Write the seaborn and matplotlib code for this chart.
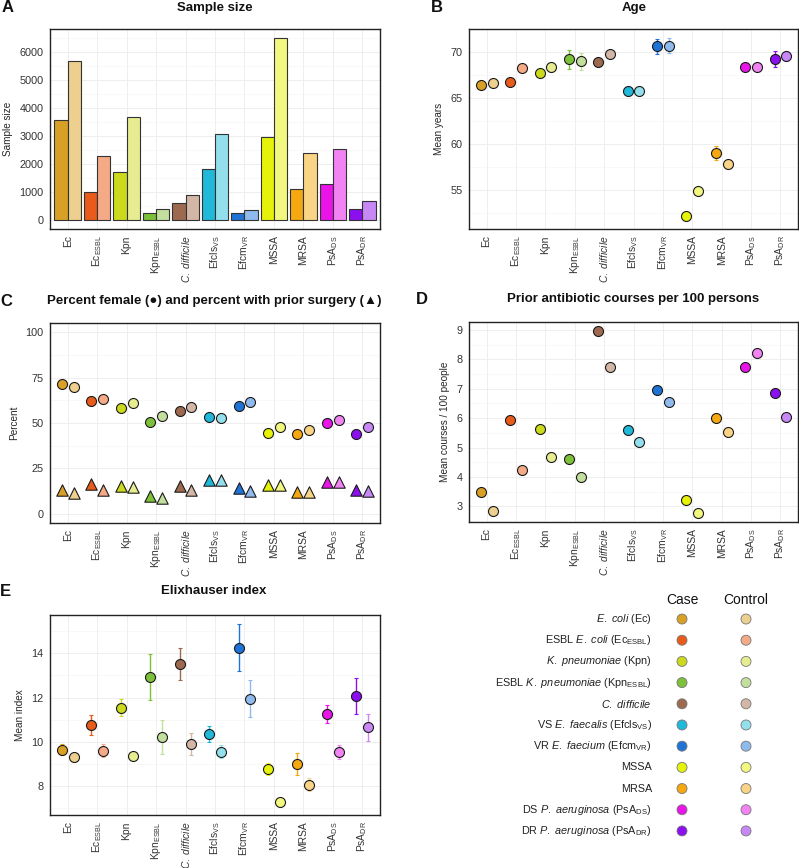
import matplotlib
matplotlib.use("Agg")
import matplotlib.pyplot as plt
from matplotlib.ticker import AutoMinorLocator, MultipleLocator
import seaborn as sns
import pandas as pd

# ---- data ----
orgs = ["Ec", "EcESBL", "Kpn", "KpnESBL", "Cdiff", "EfclsVS", "EfcmVR",
        "MSSA", "MRSA", "PsADS", "PsADR"]
tick_labels = ["Ec", r"Ec$_{\mathrm{ESBL}}$", "Kpn", r"Kpn$_{\mathrm{ESBL}}$",
               r"$\mathit{C.\ difficile}$", r"Efcls$_{\mathrm{VS}}$", r"Efcm$_{\mathrm{VR}}$",
               "MSSA", "MRSA", r"PsA$_{\mathrm{DS}}$", r"PsA$_{\mathrm{DR}}$"]
legend_labels = [r"$\mathit{E.\ coli}$ (Ec)",
                 r"ESBL $\mathit{E.\ coli}$ (Ec$_{\mathrm{ESBL}}$)",
                 r"$\mathit{K.\ pneumoniae}$ (Kpn)",
                 r"ESBL $\mathit{K.\ pneumoniae}$ (Kpn$_{\mathrm{ESBL}}$)",
                 r"$\mathit{C.\ difficile}$",
                 r"VS $\mathit{E.\ faecalis}$ (Efcls$_{\mathrm{VS}}$)",
                 r"VR $\mathit{E.\ faecium}$ (Efcm$_{\mathrm{VR}}$)",
                 "MSSA",
                 "MRSA",
                 r"DS $\mathit{P.\ aeruginosa}$ (PsA$_{\mathrm{DS}}$)",
                 r"DR $\mathit{P.\ aeruginosa}$ (PsA$_{\mathrm{DR}}$)"]
groups = ["Case", "Control"]

case_colors = ["#D9A026", "#E85B1A", "#CCDA1E", "#7DC03A", "#9E6A4F", "#21B9DA",
               "#1F73D6", "#E6F20A", "#F5A80F", "#E814E8", "#8C0FF0"]
control_colors = ["#EDCF8F", "#F4AA86", "#E6EC8F", "#C3DF9D", "#D4B6A6", "#93DFEC",
                  "#8FBAEE", "#F2F77F", "#F9D386", "#F283F2", "#C788F6"]

n_case = [3580, 1000, 1700, 250, 590, 1820, 250, 2950, 1100, 1300, 380]
n_control = [5680, 2300, 3680, 380, 880, 3080, 370, 6500, 2400, 2530, 680]

age_case = [66.47, 66.76, 67.78, 69.27, 68.9, 65.74, 70.66, 52.13, 59.0, 68.36, 69.27]
age_control = [66.65, 68.33, 68.36, 69.05, 69.78, 65.81, 70.73, 54.82, 57.8, 68.36, 69.6]
age_case_err = [0.2, 0.45, 0.3, 1.04, 0.35, 0.3, 0.85, 0.2, 0.73, 0.25, 0.85]
age_control_err = [0.15, 0.3, 0.2, 0.93, 0.3, 0.3, 0.8, 0.2, 0.35, 0.2, 0.5]

female_case = [71.5, 62.1, 58.4, 50.6, 56.5, 53.4, 59.1, 44.6, 44.2, 50.1, 44.2]
female_control = [70.0, 63.4, 60.8, 53.8, 58.6, 53.0, 61.3, 47.7, 45.9, 51.7, 47.7]
surgery_case = [13.4, 16.6, 15.3, 9.6, 15.3, 18.6, 14.5, 15.8, 12.0, 17.5, 13.3]
surgery_control = [11.6, 13.4, 14.7, 8.8, 13.4, 18.6, 12.5, 15.8, 12.0, 17.5, 12.5]

abx_case = [3.49, 5.93, 5.64, 4.62, 8.97, 5.61, 6.97, 3.23, 5.99, 7.73, 6.87]
abx_control = [2.83, 4.23, 4.68, 4.0, 7.73, 5.2, 6.56, 2.77, 5.52, 8.22, 6.03]

elix_case = [9.63, 10.76, 11.54, 12.91, 13.52, 10.34, 14.26, 8.75, 9.01, 11.26, 12.06]
elix_control = [9.3, 9.6, 9.36, 10.23, 9.88, 9.55, 11.95, 7.26, 8.06, 9.52, 10.65]
elix_case_err = [0.25, 0.47, 0.39, 1.04, 0.71, 0.37, 1.05, 0.27, 0.49, 0.42, 0.81]
elix_control_err = [0.2, 0.3, 0.2, 0.77, 0.5, 0.3, 0.84, 0.1, 0.3, 0.32, 0.61]

# ---- style ----
sns.set_style("white")
plt.rcParams["font.family"] = ["Liberation Sans", "DejaVu Sans"]
plt.rcParams["mathtext.fontset"] = "custom"
plt.rcParams["mathtext.rm"] = "Liberation Sans"
plt.rcParams["mathtext.it"] = "Liberation Sans:italic"
plt.rcParams["mathtext.bf"] = "Liberation Sans:bold"
plt.rcParams["mathtext.default"] = "regular"

W, H = 799, 868
fig = plt.figure(figsize=(W / 100, H / 100), dpi=100)


def px_axes(l, t, r, b):
    return fig.add_axes([l / W, 1 - b / H, (r - l) / W, (b - t) / H])


def long_df(case, control):
    return pd.DataFrame({"org": orgs * 2,
                         "group": ["Case"] * len(orgs) + ["Control"] * len(orgs),
                         "value": list(case) + list(control)})


def color_of(x):
    i = int(round(x))
    g = 0 if x < i else 1
    return i, g, (case_colors, control_colors)[g][i]


def style_axes(ax, ylabel, ylim, ystep):
    ax.set_xlim(-0.6, 10.6)
    ax.set_ylim(*ylim)
    ax.yaxis.set_major_locator(MultipleLocator(ystep))
    ax.yaxis.set_minor_locator(AutoMinorLocator(2))
    ax.grid(True, which="major", color="#EBEBEB", lw=0.6)
    ax.grid(True, which="minor", axis="y", color="#F4F4F4", lw=0.4)
    ax.set_axisbelow(True)
    for s in ax.spines.values():
        s.set_color("#222222")
        s.set_linewidth(1.0)
    ax.set_xticks(range(len(orgs)))
    ax.set_xticklabels(tick_labels, rotation=90, ha="center", va="top")
    ax.tick_params(axis="both", which="major", length=2.5, width=0.5, color="#333333",
                   labelsize=7.4, labelcolor="#333333", pad=2)
    ax.tick_params(axis="y", labelsize=7.8)
    ax.tick_params(which="minor", length=0)
    ax.set_xlabel("")
    ax.set_ylabel(ylabel, fontsize=7.2, labelpad=5)


def point_panel(ax, case, control, case_err=None, control_err=None, marker="o", size=7.2):
    start = len(ax.collections)
    sns.stripplot(data=long_df(case, control), x="org", y="value", hue="group",
                  order=orgs, hue_order=groups, dodge=True, jitter=False,
                  marker=marker, size=size, linewidth=0.8, edgecolor="#1a1a1a",
                  palette=["#888888", "#cccccc"], legend=False, ax=ax, zorder=3)
    errs = (case_err, control_err)
    for coll in ax.collections[start:]:
        offs = coll.get_offsets()
        cols = []
        for x, y in offs:
            i, g, c = color_of(x)
            cols.append(c)
            if errs[g] is not None:
                ax.errorbar(x, y, yerr=errs[g][i], fmt="none", ecolor=c,
                            elinewidth=1.0, capsize=1.6, capthick=0.8, zorder=2)
        coll.set_facecolors(cols)


# ---- A: sample size ----
axA = px_axes(50, 29, 380, 229)
sns.barplot(data=long_df(n_case, n_control), x="org", y="value", hue="group",
            order=orgs, hue_order=groups, width=0.9, errorbar=None,
            edgecolor="#333333", linewidth=0.8, legend=False, ax=axA)
for p in axA.patches:
    _, _, c = color_of(p.get_x() + p.get_width() / 2)
    p.set_facecolor(c)
style_axes(axA, "Sample size", (-325, 6825), 1000)

# ---- B: age ----
axB = px_axes(469, 29, 798, 229)
point_panel(axB, age_case, age_control, age_case_err, age_control_err)
style_axes(axB, "Mean years", (50.7, 72.55), 5)

# ---- C: percent female / prior surgery ----
axC = px_axes(50, 323, 380, 523)
point_panel(axC, female_case, female_control)
point_panel(axC, surgery_case, surgery_control, marker="^", size=8.2)
style_axes(axC, "Percent", (-5, 105), 25)

# ---- D: prior antibiotics ----
axD = px_axes(469, 322, 798, 522)
point_panel(axD, abx_case, abx_control)
style_axes(axD, "Mean courses / 100 people", (2.47, 9.27), 1)

# ---- E: Elixhauser ----
axE = px_axes(50, 615, 380, 815)
point_panel(axE, elix_case, elix_control, elix_case_err, elix_control_err)
style_axes(axE, "Mean index", (6.69, 15.73), 2)

# ---- titles and panel letters ----
titles = [(215, 8, "Sample size"), (634, 8, "Age"),
          (214, 301, "Percent female (\u25CF) and percent with prior surgery (\u25B2)"),
          (633, 299, "Prior antibiotic courses per 100 persons"),
          (214, 591, "Elixhauser index")]
for x, y, t in titles:
    fig.text(x / W, 1 - y / H, t, ha="center", va="center", fontsize=9.5,
             fontweight="bold", color="#111111")
for x, y, t in [(2, 8, "A"), (431, 8, "B"), (0, 301, "C"), (416, 299, "D"), (0, 591, "E")]:
    fig.text(x / W, 1 - y / H, t, ha="left", va="center", fontsize=12,
             fontweight="bold", color="#111111")

# ---- legend panel ----
axL = px_axes(660, 590, 770, 850)
leg_df = pd.DataFrame({"group": ["Case"] * len(orgs) + ["Control"] * len(orgs),
                       "row": list(range(len(orgs))) * 2,
                       "key": [f"{o}_case" for o in orgs] + [f"{o}_control" for o in orgs]})
pal = {f"{o}_case": c for o, c in zip(orgs, case_colors)}
pal.update({f"{o}_control": c for o, c in zip(orgs, control_colors)})
sns.scatterplot(data=leg_df, x="group", y="row", hue="key", palette=pal, s=52,
                edgecolor="#777777", linewidth=0.6, legend=False, ax=axL)
axL.set_xlim(-0.344, 1.375)
axL.set_ylim(10.9, -1.37)
axL.axis("off")
for g_i, g in enumerate(groups):
    axL.text(g_i, -0.9, g, ha="center", va="center", fontsize=10, color="#111111")
for i, lab in enumerate(legend_labels):
    axL.text(-0.47, i, lab, ha="right", va="center", fontsize=7.8, color="#222222",
             clip_on=False)

fig.savefig("out.png", dpi=100)
